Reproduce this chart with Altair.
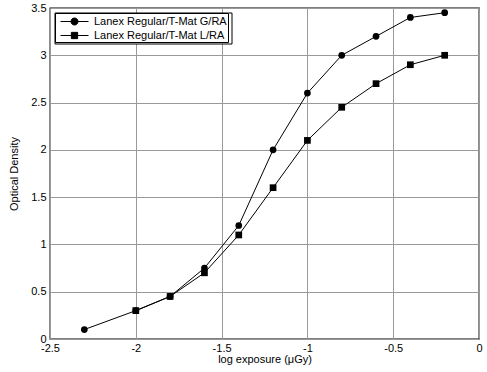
import altair as alt
import pandas as pd

series_g = "Lanex Regular/T-Mat G/RA"
series_l = "Lanex Regular/T-Mat L/RA"

x_g = [-2.3, -2.0, -1.8, -1.6, -1.4, -1.2, -1.0, -0.8, -0.6, -0.4, -0.2]
y_g = [0.1, 0.3, 0.45, 0.75, 1.2, 2.0, 2.6, 3.0, 3.2, 3.4, 3.45]
x_l = [-2.0, -1.8, -1.6, -1.4, -1.2, -1.0, -0.8, -0.6, -0.4, -0.2]
y_l = [0.3, 0.45, 0.7, 1.1, 1.6, 2.1, 2.45, 2.7, 2.9, 3.0]

x_ticks = [-2.5, -2, -1.5, -1, -0.5, 0]
y_ticks = [0, 0.5, 1, 1.5, 2, 2.5, 3, 3.5]

df = pd.concat([
    pd.DataFrame({"x": x_g, "y": y_g, "series": series_g, "order": range(len(x_g))}),
    pd.DataFrame({"x": x_l, "y": y_l, "series": series_l, "order": range(len(x_l))}),
])

names = [series_g, series_l]
FONT = "Liberation Sans"

xenc = alt.X("x:Q", scale=alt.Scale(domain=[-2.5, 0], nice=False),
             axis=alt.Axis(values=x_ticks, title="log exposure (\u03bcGy)",
                           labelExpr="toString(datum.value)"))
yenc = alt.Y("y:Q", scale=alt.Scale(domain=[0, 3.5], nice=False),
             axis=alt.Axis(values=y_ticks, title="Optical Density",
                           labelExpr="toString(datum.value)"))

base = alt.Chart(df)

lines = base.mark_line(color="black", strokeWidth=1).encode(
    x=xenc, y=yenc, detail="series:N", order="order:Q")

points = base.mark_point(filled=True, color="black", opacity=1, size=45).encode(
    x=xenc, y=yenc,
    shape=alt.Shape("series:N", scale=alt.Scale(domain=names, range=["circle", "square"]),
                    legend=None))

# legend frame (white box with black border behind the legend entries)
legend_box = alt.Chart(pd.DataFrame({"k": [0]})).mark_rect(
    fill="white", stroke="black", strokeWidth=1).encode(
    x=alt.value(5), x2=alt.value(182), y=alt.value(5), y2=alt.value(36))

circle_path = "M-2,0L2,0M-0.5,0A0.5,0.5 0 1,0 0.5,0A0.5,0.5 0 1,0 -0.5,0Z"
square_path = "M-2,0L2,0M-0.45,-0.45L0.45,-0.45L0.45,0.45L-0.45,0.45Z"

legend_layer = base.mark_point(
    filled=False, fill="black", stroke="black", strokeWidth=1, opacity=0, size=196).encode(
    x=xenc, y=yenc,
    shape=alt.Shape("series:N",
                    scale=alt.Scale(domain=names, range=[circle_path, square_path]),
                    legend=alt.Legend(
                        title=None, orient="top-left", offset=5,
                        strokeColor="black", fillColor="white", padding=1,
                        rowPadding=1, symbolOffset=11, labelOffset=12,
                        symbolStrokeWidth=1, symbolOpacity=1, symbolSize=196,
                        labelFont=FONT, labelFontSize=11, labelColor="black",
                        labelLimit=300)))

chart = alt.layer(lines, points, legend_box, legend_layer).resolve_scale(
    shape="independent"
).properties(
    width=429, height=331,
    autosize=alt.AutoSizeParams(type="none"),
    padding={"left": 50, "top": 8, "right": 8, "bottom": 33},
).configure_view(
    stroke="black", strokeWidth=1.3
).configure_legend(
    strokeColor="black", fillColor="white", padding=1, strokeWidth=1,
).configure_axis(
    grid=True, gridColor="#999999", gridWidth=1,
    domain=False, ticks=False,
    labelFont=FONT, labelFontSize=11, labelColor="black",
    titleFont=FONT, titleFontSize=11, titleFontWeight="normal", titleColor="black",
).configure_axisX(
    labelPadding=3, titlePadding=0, labelFlush=False,
).configure_axisY(
    labelPadding=4, titlePadding=11,
)

chart.save("out.html", embed_options={"renderer": "svg", "actions": False})
